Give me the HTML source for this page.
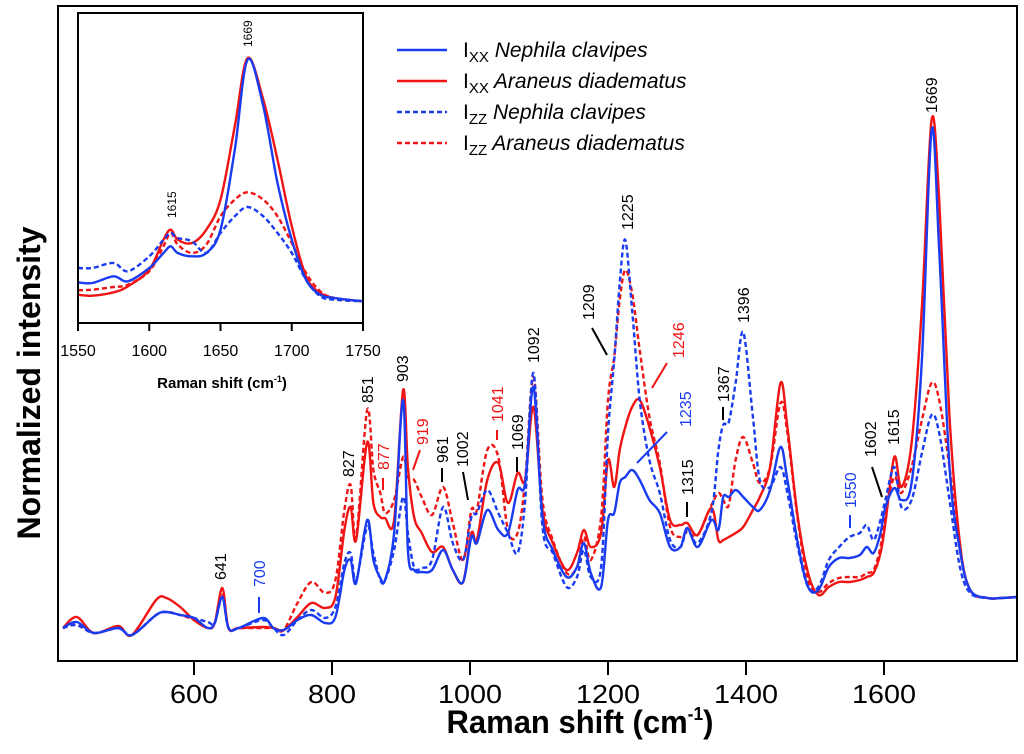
<!DOCTYPE html>
<html><head><meta charset="utf-8"><style>
html,body{margin:0;padding:0;background:#fff;}
svg{display:block;font-family:"Liberation Sans",Arial,sans-serif;}
</style></head><body>
<svg id="chart" width="1024" height="754" viewBox="0 0 1024 754" xmlns="http://www.w3.org/2000/svg">
<rect x="0" y="0" width="1024" height="754" fill="#fff"/>
<g id="main-series"></g>
<rect x="58" y="6" width="959" height="655" fill="none" stroke="#000" stroke-width="2"/>
<g id="xticks"></g>
<text x="580" y="733" font-size="32" font-weight="bold" text-anchor="middle" textLength="267" lengthAdjust="spacingAndGlyphs">Raman shift (cm<tspan font-size="18" dy="-13">-1</tspan><tspan dy="13">)</tspan></text>
<text transform="translate(40,383) rotate(-90)" font-size="32" font-weight="bold" text-anchor="middle" textLength="313" lengthAdjust="spacingAndGlyphs">Normalized intensity</text>
<g id="annotations"></g>
<g id="legend"></g>
<g id="inset"></g>
</svg>
<script>
const NS="http://www.w3.org/2000/svg";
// ---- main chart data ----
const wavenumbers=[410,430,455,490,510,545,560,580,600,620,630,641,650,665,700,715,730,750,770,790,805,818,827,835,851,860,870,877,890,903,910,919,930,945,961,975,990,1002,1010,1025,1041,1055,1069,1080,1092,1105,1120,1140,1155,1165,1175,1190,1200,1209,1217,1225,1235,1246,1260,1275,1290,1305,1315,1330,1350,1360,1367,1375,1385,1396,1410,1420,1435,1450,1460,1475,1490,1505,1520,1535,1550,1565,1575,1585,1595,1602,1615,1625,1640,1655,1669,1680,1695,1710,1725,1750,1770,1793];
const ixxAraneus=[29,40,24,31,22,57,59,50,37,29,34,69,29,29,30,29,27,40,54,49,60,127,150,117,215,154,140,139,137,267,190,140,124,105,110,87,75,124,117,177,194,154,184,177,250,147,114,87,104,127,110,124,197,170,207,230,250,257,230,190,137,132,134,122,149,117,117,120,124,130,147,160,190,274,230,140,84,62,70,75,75,77,80,84,104,134,200,170,214,350,537,457,240,114,67,59,59,60];
const izzAraneus=[29,32,24,29,22,42,45,42,37,29,34,62,29,29,29,29,27,54,75,64,77,147,172,120,247,187,164,144,157,200,180,177,160,142,170,134,97,147,147,207,200,127,124,177,280,157,117,84,90,120,97,140,257,300,357,387,364,307,240,194,130,120,125,122,152,164,157,152,197,220,194,174,190,254,224,137,77,65,74,79,80,80,84,87,110,144,180,164,190,237,274,257,190,107,67,59,59,60];
const ixxNephila=[29,35,24,29,22,42,45,42,39,29,34,60,29,29,39,29,27,37,42,34,40,87,97,74,137,97,79,77,124,257,107,87,85,87,107,87,75,120,114,147,127,124,167,174,270,140,107,80,90,114,84,70,137,144,174,180,187,177,157,144,110,110,129,110,137,127,160,160,167,160,150,147,167,210,177,114,70,67,90,99,99,102,110,104,124,150,169,157,174,297,527,407,190,107,67,59,59,60];
const izzNephila=[29,32,24,29,22,42,45,42,39,35,34,60,29,29,37,29,22,37,47,39,50,94,104,77,130,104,77,77,107,160,124,90,89,97,150,114,97,140,144,167,144,124,104,157,284,130,104,70,80,107,80,90,224,297,374,417,347,257,197,164,117,110,127,114,145,207,232,235,274,325,240,177,170,190,164,110,70,70,97,110,120,124,132,117,137,157,190,150,157,204,242,224,157,90,64,59,59,60];
const xTicks=[600,800,1000,1200,1400,1600];
const peakLabels=["641","700","827","851","877","903","919","961","1002","1041","1069","1092","1209","1225","1246","1235","1315","1367","1396","1550","1602","1615","1669"];
// ---- inset data ----
const insetWavenumbers=[1550,1560,1575,1585,1600,1610,1615,1620,1630,1640,1650,1660,1669,1680,1690,1700,1710,1720,1730,1750];
const insetIxxAraneus=[85,82,92,110,160,250,280,250,240,280,370,590,795,670,490,290,140,90,75,65];
const insetIxxNephila=[122,120,140,125,165,210,230,210,200,210,280,520,790,650,420,250,130,85,75,65];
const insetIzzAraneus=[98,100,108,115,155,230,270,235,210,235,320,370,392,370,320,240,150,95,75,65];
const insetIzzNephila=[165,165,180,155,200,250,270,255,245,210,270,320,348,320,270,210,130,80,70,65];
const insetTicks=[1550,1600,1650,1700,1750];

// axis functions
const xMain=v=>194+(v-600)*0.69;
const yMain=i=>657-i;
const xIn=v=>78+(v-1550)*(285/200);
const yIn=i=>323-i/3;
const BLUE="#1a3cf0", RED="#f01414";

function pathFrom(xs,ys,fx,fy){
  const P=xs.map((v,k)=>[fx(v),fy(ys[k])]);
  let d="M"+P[0][0].toFixed(1)+","+P[0][1].toFixed(1);
  for(let k=0;k<P.length-1;k++){
    const p0=P[k-1]||P[k],p1=P[k],p2=P[k+1],p3=P[k+2]||P[k+1];
    const c1x=p1[0]+(p2[0]-p0[0])/6,c1y=p1[1]+(p2[1]-p0[1])/6;
    const c2x=p2[0]-(p3[0]-p1[0])/6,c2y=p2[1]-(p3[1]-p1[1])/6;
    d+="C"+c1x.toFixed(1)+","+c1y.toFixed(1)+" "+c2x.toFixed(1)+","+c2y.toFixed(1)+" "+p2[0].toFixed(1)+","+p2[1].toFixed(1);
  }
  return d;
}

const main=document.getElementById("main-series");
const seriesDefs=[[izzAraneus,RED,true,"series-izz-araneus"],[ixxAraneus,RED,false,"series-ixx-araneus"],[izzNephila,BLUE,true,"series-izz-nephila"],[ixxNephila,BLUE,false,"series-ixx-nephila"]];
seriesDefs.forEach(d=>{
  const p=document.createElementNS(NS,"path");
  p.setAttribute("d",pathFrom(wavenumbers,d[0],xMain,yMain));
  p.setAttribute("fill","none");p.setAttribute("stroke",d[1]);p.setAttribute("stroke-width","2.4");
  p.setAttribute("stroke-linejoin","round");
  if(d[2])p.setAttribute("stroke-dasharray","5,3");
  
  
  main.appendChild(p);
});

const xt=document.getElementById("xticks");
xTicks.forEach(t=>{
  const l=document.createElementNS(NS,"line");
  l.setAttribute("x1",xMain(t));l.setAttribute("x2",xMain(t));l.setAttribute("y1",661);l.setAttribute("y2",675);
  l.setAttribute("stroke","#000");l.setAttribute("stroke-width","2");
  
  
  xt.appendChild(l);
  const tx=document.createElementNS(NS,"text");
  tx.setAttribute("x",xMain(t));tx.setAttribute("y",703);tx.setAttribute("font-size","26");tx.setAttribute("text-anchor","middle");
  tx.setAttribute("textLength",String(t).length*16);tx.setAttribute("lengthAdjust","spacingAndGlyphs");
  tx.textContent=t;
  
  
  xt.appendChild(tx);
});

const annLayout=[
 [0,220,580,"#000",null],
 [1,259,587,BLUE,[259,597,259,613]],
 [2,348,477,"#000",null],
 [3,367,403,"#000",null],
 [4,383,470,RED,[383,478,383,490]],
 [5,402,382,"#000",null],
 [6,422,445,RED,[420,450,413,470]],
 [7,442,463,"#000",[442,468,442,482]],
 [8,462,467,"#000",[463,472,468,500]],
 [9,497,422,RED,[497,430,497,440]],
 [10,517,450,"#000",[517,457,517,472]],
 [11,533,363,"#000",null],
 [12,588,320,"#000",[592,328,607,355]],
 [13,627,230,"#000",null],
 [14,678,358,RED,[667,363,652,388]],
 [15,685,427,BLUE,[667,432,637,463]],
 [16,687,495,"#000",[687,502,687,517]],
 [17,723,402,"#000",[723,407,723,420]],
 [18,743,323,"#000",null],
 [19,850,508,BLUE,[850,515,850,528]],
 [20,870,457,"#000",[872,467,882,497]],
 [21,893,445,"#000",null],
 [22,931,113,"#000",null]
];
const ann=document.getElementById("annotations");
annLayout.forEach(a=>{
  const t=document.createElementNS(NS,"text");
  t.setAttribute("transform","translate("+(a[1]+6)+","+a[2]+") rotate(-90)");
  t.setAttribute("font-size","16");t.setAttribute("fill",a[3]);
  t.textContent=peakLabels[a[0]];
  
  
  ann.appendChild(t);
  if(a[4]){
    const l=document.createElementNS(NS,"line");
    l.setAttribute("x1",a[4][0]);l.setAttribute("y1",a[4][1]);l.setAttribute("x2",a[4][2]);l.setAttribute("y2",a[4][3]);
    l.setAttribute("stroke",a[3]);l.setAttribute("stroke-width","2");
    
    
    ann.appendChild(l);
  }
});

const legendNames=[["XX","Nephila clavipes",BLUE,false],["XX","Araneus diadematus",RED,false],["ZZ","Nephila clavipes",BLUE,true],["ZZ","Araneus diadematus",RED,true]];
const leg=document.getElementById("legend");
legendNames.forEach((e,k)=>{
  const y=50+k*31;
  const g=document.createElementNS(NS,"g");
  
  
  const l=document.createElementNS(NS,"line");
  l.setAttribute("x1",397);l.setAttribute("x2",447);l.setAttribute("y1",y);l.setAttribute("y2",y);
  l.setAttribute("stroke",e[2]);l.setAttribute("stroke-width","2.4");
  if(e[3])l.setAttribute("stroke-dasharray","5,3");
  g.appendChild(l);
  const t=document.createElementNS(NS,"text");
  t.setAttribute("x",463);t.setAttribute("y",y+7);t.setAttribute("font-size","21");
  t.innerHTML='I<tspan font-size="15" dy="5">'+e[0]+'</tspan><tspan dy="-5" font-style="italic"> '+e[1]+'</tspan>';
  g.appendChild(t);
  leg.appendChild(g);
});

const ins=document.getElementById("inset");
const bg=document.createElementNS(NS,"rect");
bg.setAttribute("x",78);bg.setAttribute("y",13);bg.setAttribute("width",285);bg.setAttribute("height",310);bg.setAttribute("fill","#fff");


ins.appendChild(bg);
[[insetIzzAraneus,RED,true,"inset-izz-araneus"],[insetIxxAraneus,RED,false,"inset-ixx-araneus"],[insetIzzNephila,BLUE,true,"inset-izz-nephila"],[insetIxxNephila,BLUE,false,"inset-ixx-nephila"]].forEach(d=>{
  const p=document.createElementNS(NS,"path");
  p.setAttribute("d",pathFrom(insetWavenumbers,d[0],xIn,yIn));
  p.setAttribute("fill","none");p.setAttribute("stroke",d[1]);p.setAttribute("stroke-width","2.4");p.setAttribute("stroke-linejoin","round");
  if(d[2])p.setAttribute("stroke-dasharray","5,3");
  
  
  ins.appendChild(p);
});
const fr=document.createElementNS(NS,"rect");
fr.setAttribute("x",78);fr.setAttribute("y",13);fr.setAttribute("width",285);fr.setAttribute("height",310);fr.setAttribute("fill","none");fr.setAttribute("stroke","#000");fr.setAttribute("stroke-width","2");


ins.appendChild(fr);
insetTicks.forEach(t=>{
  const l=document.createElementNS(NS,"line");
  l.setAttribute("x1",xIn(t));l.setAttribute("x2",xIn(t));l.setAttribute("y1",323);l.setAttribute("y2",331);
  l.setAttribute("stroke","#000");l.setAttribute("stroke-width","2");
  
  
  ins.appendChild(l);
  const tx=document.createElementNS(NS,"text");
  tx.setAttribute("x",xIn(t));tx.setAttribute("y",356);tx.setAttribute("font-size","16");tx.setAttribute("text-anchor","middle");
  tx.textContent=t;
  
  
  ins.appendChild(tx);
});
const it=document.createElementNS(NS,"text");
it.setAttribute("x",222);it.setAttribute("y",388);it.setAttribute("font-size","15");it.setAttribute("font-weight","bold");it.setAttribute("text-anchor","middle");
it.innerHTML='Raman shift (cm<tspan font-size="9" dy="-6">-1</tspan><tspan dy="6">)</tspan>';


ins.appendChild(it);
[["1669",248,47],["1615",172,218]].forEach(a=>{
  const t=document.createElementNS(NS,"text");
  t.setAttribute("transform","translate("+(a[1]+4)+","+a[2]+") rotate(-90)");
  t.setAttribute("font-size","12");t.textContent=a[0];
  
  
  ins.appendChild(t);
});
</script>
</body></html>
